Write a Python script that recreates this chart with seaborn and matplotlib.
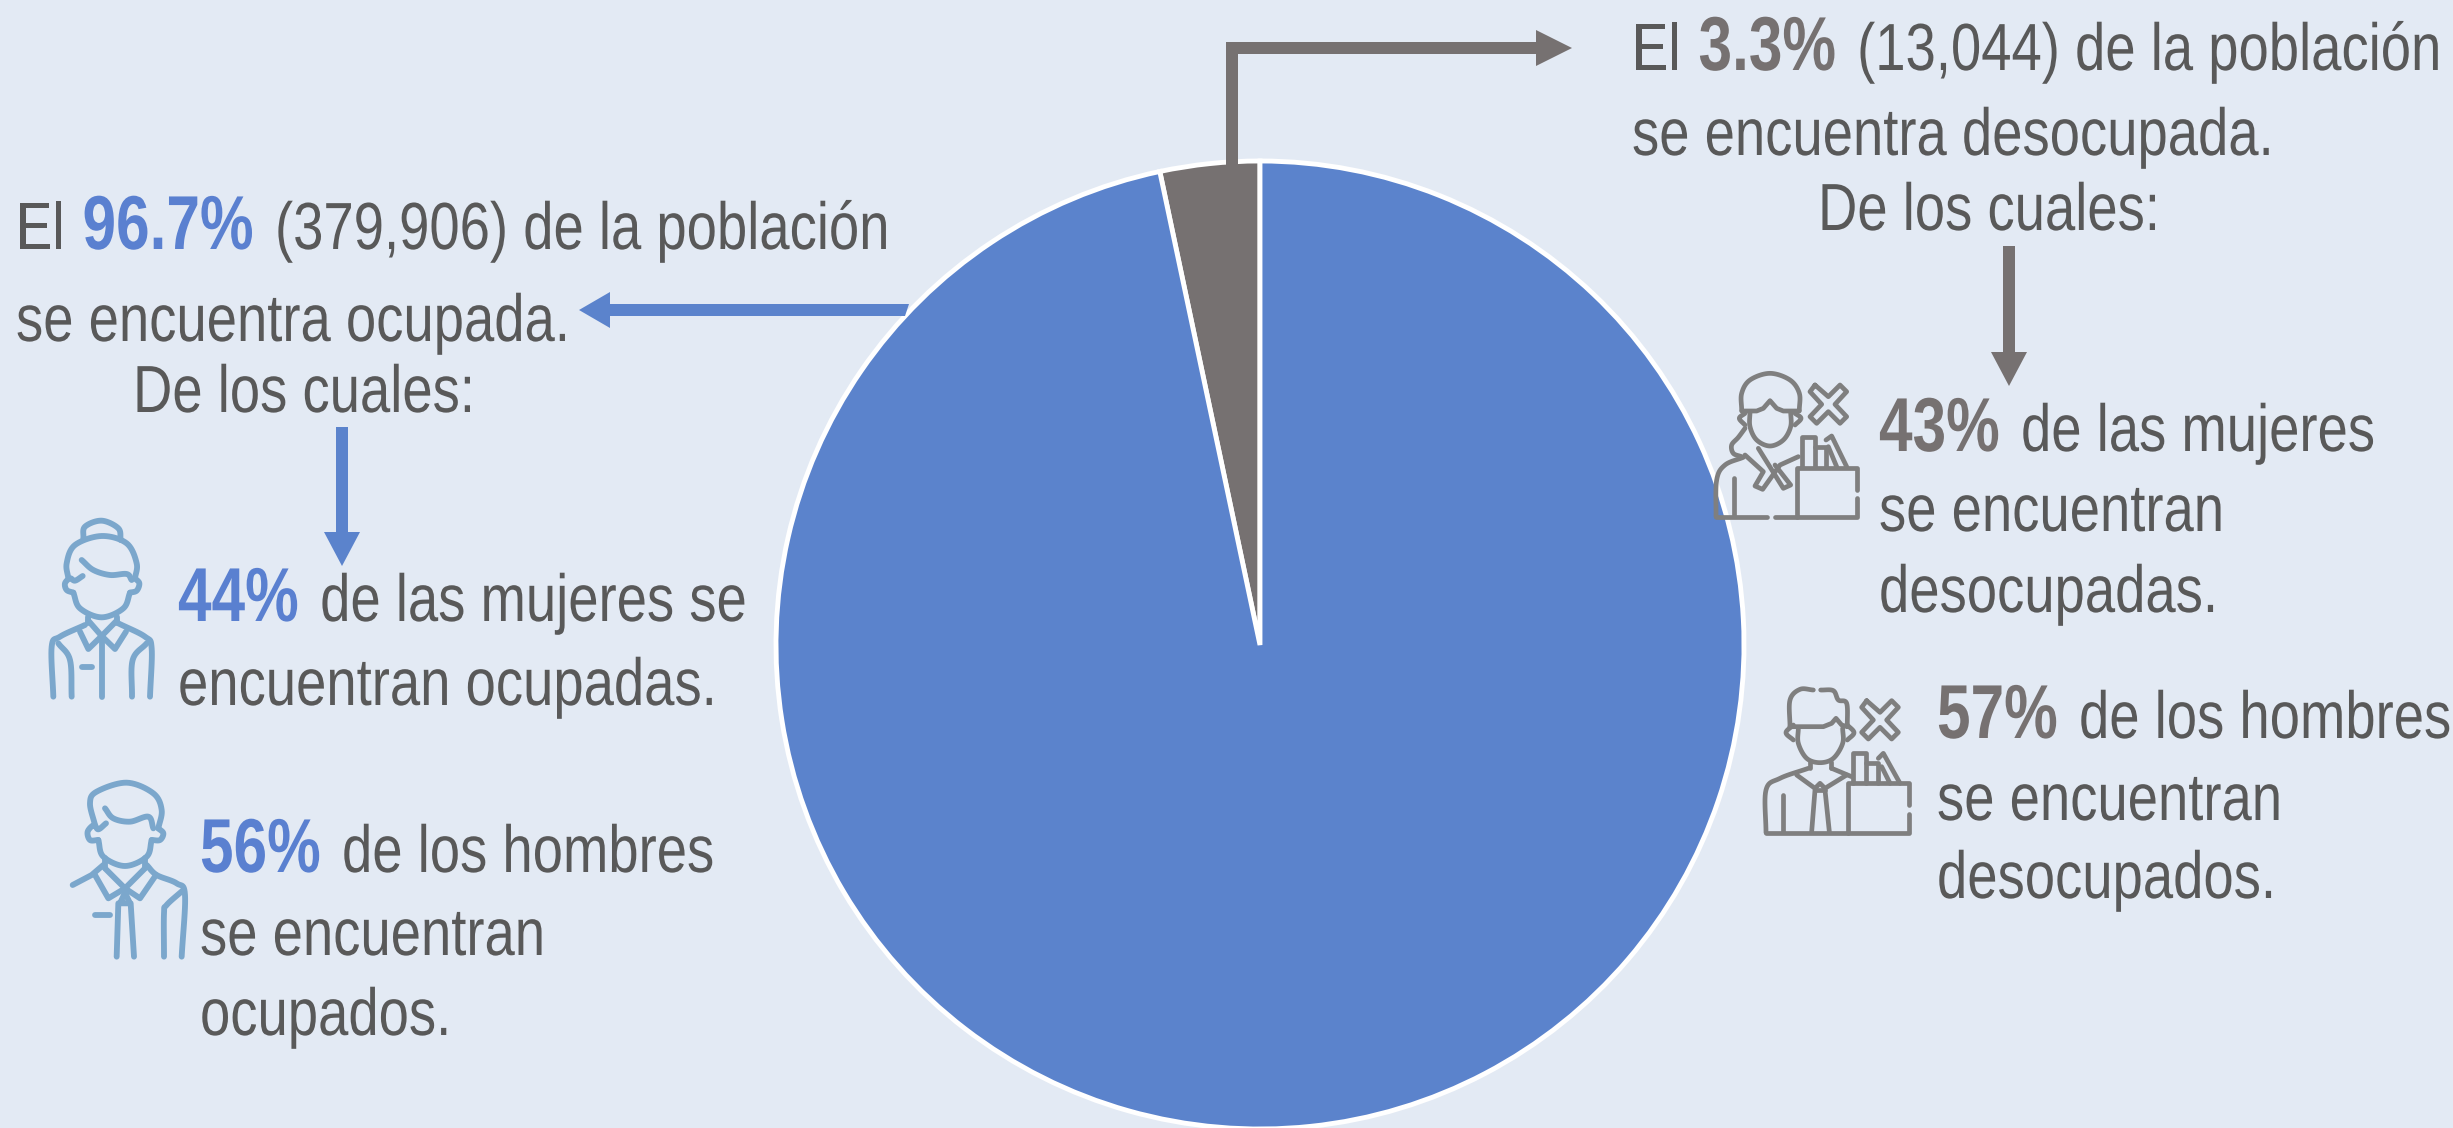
import numpy as np
import seaborn as sns
import matplotlib.pyplot as plt
from matplotlib.patches import Polygon
from matplotlib.patheffects import AbstractPathEffect
from matplotlib.transforms import Affine2D

# poblacion por condicion de actividad
pie_labels = ['Desocupada', 'Ocupada']
pie_values = [13044, 379906]

texto_ocupada = [
    [('El ', 0), ('96.7%', 1), (' (379,906) de la población', 0)],
    [('se encuentra ocupada.', 0)],
    [('De los cuales:', 0)],
    [('44%', 1), (' de las mujeres se', 0)],
    [('encuentran ocupadas.', 0)],
    [('56%', 1), (' de los hombres', 0)],
    [('se encuentran', 0)],
    [('ocupados.', 0)],
]
pos_ocupada = [(16, 249), (16, 341), (133, 412), (178, 621), (178, 705), (200, 872), (200, 955), (200, 1035)]

texto_desocupada = [
    [('El ', 0), ('3.3%', 1), (' (13,044) de la población', 0)],
    [('se encuentra desocupada.', 0)],
    [('De los cuales:', 0)],
    [('43%', 1), (' de las mujeres', 0)],
    [('se encuentran', 0)],
    [('desocupadas.', 0)],
    [('57%', 1), (' de los hombres', 0)],
    [('se encuentran', 0)],
    [('desocupados.', 0)],
]
pos_desocupada = [(1632, 70), (1632, 155), (1818, 230), (1879, 451), (1879, 531), (1879, 612), (1937, 738), (1937, 820), (1937, 898)]

BG = '#E3EAF4'
AZUL = '#5B83CC'
AZUL_TXT = '#5A80D0'
GRIS = '#767171'
TXT = '#595959'
ICON_AZUL = '#7BA7CC'
ICON_GRIS = '#7F7F7F'
W, H = 2453, 1128

sns.set_theme(style='white')
plt.rcParams['font.family'] = ['Liberation Sans', 'DejaVu Sans']
# el original esta estirado en vertical
FS = {0: 39.2, 1: 43.45}
SY = {0: 1 / 0.817, 1: 1 / 0.79}
EXTRA = 6  # espacio de mas despues de la cifra en negritas

fig = plt.figure(figsize=(W / 100, H / 100), dpi=100, facecolor=BG)
ax = fig.add_axes([0, 0, 1, 1])
ax.set_xlim(0, W)
ax.set_ylim(0, H)
ax.axis('off')

ax.pie(pie_values, colors=sns.color_palette([GRIS, AZUL]), startangle=90, center=(1260, H - 645), radius=484,
       wedgeprops={'edgecolor': 'white', 'linewidth': 3.5}, frame=True)
ax.set_xlim(0, W)
ax.set_ylim(0, H)
ax.set_aspect('equal')
ax.axis('off')


def flecha(pts, color):
    ax.add_patch(Polygon([(x, H - y) for x, y in pts], closed=True, fc=color, ec='none', zorder=4))


# flechas
flecha([(1226, 165), (1226, 42), (1536, 42), (1536, 30), (1572, 48), (1536, 66), (1536, 54), (1238, 54), (1238, 165)], GRIS)
flecha([(909, 304), (610, 304), (610, 292), (579, 310), (610, 328), (610, 316), (905, 316)], AZUL)
flecha([(336, 427), (348, 427), (348, 532), (360, 532), (342, 566), (324, 532), (336, 532)], AZUL)
flecha([(2003, 246), (2015, 246), (2015, 352), (2027, 352), (2009, 386), (1991, 352), (2003, 352)], GRIS)

rend = fig.canvas.get_renderer()


class Alta(AbstractPathEffect):
    def __init__(self, y0, sy):
        super().__init__()
        self.y0, self.sy = y0, sy

    def draw_path(self, renderer, gc, tpath, affine, rgbFace=None):
        t = affine + Affine2D().translate(0, -self.y0).scale(1, self.sy).translate(0, self.y0)
        renderer.draw_path(gc, tpath, t, rgbFace)


def ancho(s, bold):
    t = ax.text(0, 0, 'x' + s + 'x', fontsize=FS[bold], fontweight='bold' if bold else 'normal')
    a = t.get_window_extent(rend).width
    t.set_text('xx')
    a -= t.get_window_extent(rend).width
    t.remove()
    return a


def escribe(filas, posiciones, color_fuerte):
    for fila, (x, y) in zip(filas, posiciones):
        for s, bold in fila:
            t = ax.text(x, H - y, s, fontsize=FS[bold], color=color_fuerte if bold else TXT, va='baseline', ha='left',
                        fontweight='bold' if bold else 'normal', zorder=5)
            t.set_path_effects([Alta(H - y, SY[bold])])
            x += ancho(s, bold)
            if bold or s == 'El ':
                x += EXTRA if bold else 3


escribe(texto_ocupada, pos_ocupada, AZUL_TXT)
escribe(texto_desocupada, pos_desocupada, GRIS)


def suave(pts):
    # spline que pasa por los puntos
    p = np.array(pts, float)
    p = np.vstack([2 * p[0] - p[1], p, 2 * p[-1] - p[-2]])
    out = []
    for i in range(1, len(p) - 2):
        t = np.linspace(0, 1, 12)[:, None]
        a, b, c, d = p[i - 1], p[i], p[i + 1], p[i + 2]
        out.append(.5 * (2 * b + (c - a) * t + (2 * a - 5 * b + 4 * c - d) * t**2 + (3 * b - a - 3 * c + d) * t**3))
    return np.vstack(out)


def icono(trazos, ox, oy, color, lw):
    for smooth, pts in trazos:
        p = suave(pts) if smooth else np.array(pts, float)
        ax.plot(ox + p[:, 0] / 3, H - (oy + p[:, 1] / 3), color=color, lw=lw, solid_capstyle='round',
                solid_joinstyle='round', zorder=6)


def equis(cx, cy):
    d = [(-40, -58), (0, -23), (35, -58), (55, -38), (20, 0), (55, 37), (35, 57), (0, 22), (-35, 57), (-55, 37), (-20, 0),
         (-55, -38), (-40, -58)]
    return (False, [(cx + a, cy + b) for a, b in d])


mujer_azul = [
    (1, [(190, 115), (195, 80), (245, 62), (295, 85), (302, 120)]),
    (1, [(145, 235), (140, 190), (165, 135), (245, 108), (320, 130), (350, 190), (345, 235)]),
    (1, [(185, 180), (220, 210), (270, 225), (320, 222), (335, 240)]),
    (1, [(188, 228), (165, 242), (150, 235), (135, 250), (140, 270), (160, 278)]),
    (1, [(345, 235), (358, 250), (350, 272), (330, 278)]),
    (1, [(160, 278), (180, 325), (245, 352), (310, 325), (330, 278)]),
    (0, [(205, 350), (205, 370)]), (0, [(290, 350), (290, 370)]),
    (0, [(205, 362), (245, 408), (290, 362)]),
    (0, [(180, 395), (205, 447), (245, 408), (285, 447), (318, 395)]),
    (1, [(195, 375), (120, 410), (95, 440), (100, 590)]),
    (1, [(295, 370), (375, 410), (395, 445), (390, 590)]),
    (1, [(115, 430), (150, 480), (155, 590)]),
    (1, [(380, 430), (338, 480), (336, 590)]),
    (0, [(245, 415), (245, 590)]), (0, [(185, 500), (215, 500)]),
]
hombre_azul = [
    (1, [(225, 975), (210, 910), (230, 875), (320, 848), (400, 880), (425, 930), (415, 985)]),
    (1, [(255, 925), (280, 955), (330, 965), (385, 950), (400, 985)]),
    (1, [(258, 970), (235, 988), (222, 975), (203, 995), (210, 1020), (235, 1020)]),
    (1, [(415, 985), (430, 1000), (420, 1020), (395, 1020)]),
    (1, [(235, 1020), (250, 1070), (315, 1098), (380, 1070), (395, 1020)]),
    (0, [(255, 1075), (255, 1105)]), (0, [(375, 1075), (375, 1105)]),
    (0, [(250, 1095), (215, 1125), (158, 1155)]),
    (1, [(380, 1095), (410, 1125), (470, 1150), (495, 1185), (485, 1370)]),
    (0, [(255, 1105), (315, 1165), (375, 1105)]),
    (0, [(225, 1125), (265, 1195), (315, 1165), (360, 1195), (408, 1125)]),
    (0, [(300, 1210), (315, 1178), (330, 1210), (300, 1210)]),
    (0, [(295, 1210), (290, 1370)]), (0, [(332, 1210), (342, 1370)]),
    (1, [(490, 1170), (440, 1215), (432, 1240), (432, 1370)]),
    (0, [(225, 1245), (270, 1245)]),
]
mujer_gris = [
    (1, [(125, 180), (125, 130), (150, 90), (210, 70), (270, 90), (298, 130), (298, 180)]),
    (0, [(125, 183), (170, 183), (190, 175), (210, 152), (230, 175), (250, 183), (298, 183)]),
    (1, [(150, 185), (150, 230), (170, 270), (210, 288), (250, 270), (272, 230), (272, 185)]),
    (1, [(135, 190), (118, 205), (135, 225)]), (1, [(285, 190), (303, 205), (285, 225)]),
    (1, [(135, 235), (115, 262), (95, 285), (100, 310), (125, 320)]),
    (0, [(135, 315), (190, 365), (165, 408), (188, 418), (240, 345), (295, 320)]),
    (0, [(175, 295), (250, 415), (272, 405), (225, 345)]),
    (1, [(130, 322), (75, 345), (50, 390), (48, 500)]),
    (0, [(48, 500), (200, 500)]), (0, [(225, 500), (470, 500), (470, 445)]),
    (0, [(102, 385), (102, 495)]),
    (0, [(290, 500), (290, 355), (470, 355), (470, 420)]),
    (0, [(305, 350), (305, 262), (345, 262), (345, 350)]),
    (0, [(345, 292), (378, 292), (378, 350)]),
    (0, [(378, 270), (395, 258), (440, 350)]), (0, [(385, 290), (410, 350)]),
    equis(385, 163),
]
hombre_gris = [
    (1, [(340, 1020), (300, 1018), (270, 1050), (270, 1130)]),
    (1, [(362, 1020), (400, 1022), (415, 1050), (440, 1060), (442, 1130)]),
    (0, [(270, 1130), (370, 1130), (395, 1120), (408, 1105), (425, 1125), (442, 1130)]),
    (1, [(295, 1135), (295, 1180), (320, 1225), (360, 1238), (400, 1225), (428, 1180), (428, 1135)]),
    (1, [(280, 1125), (258, 1148), (280, 1170)]), (1, [(442, 1125), (462, 1148), (442, 1170)]),
    (0, [(330, 1235), (330, 1255)]), (0, [(392, 1235), (392, 1255)]),
    (1, [(325, 1255), (240, 1285), (198, 1320), (198, 1448)]),
    (0, [(395, 1255), (455, 1280)]),
    (0, [(290, 1275), (345, 1315), (360, 1300), (375, 1315), (440, 1275)]),
    (0, [(345, 1320), (375, 1320)]),
    (0, [(345, 1320), (335, 1445)]), (0, [(375, 1320), (388, 1445)]),
    (0, [(250, 1335), (250, 1445)]),
    (0, [(628, 1365), (628, 1300), (445, 1300), (445, 1448)]),
    (0, [(628, 1392), (628, 1448), (198, 1448)]),
    (0, [(460, 1300), (460, 1210), (498, 1210), (498, 1300)]),
    (0, [(498, 1240), (535, 1240), (535, 1300)]),
    (0, [(535, 1225), (550, 1210), (600, 1300)]), (0, [(545, 1250), (570, 1300)]),
    equis(540, 1110),
]
icono(mujer_azul, 20, 500, ICON_AZUL, 4.2)
icono(hombre_azul, 20, 500, ICON_AZUL, 4.2)
icono(mujer_gris, 1700, 350, ICON_GRIS, 3.4)
icono(hombre_gris, 1700, 350, ICON_GRIS, 3.4)

plt.savefig('out.png', dpi=100, facecolor=BG)
plt.close()
